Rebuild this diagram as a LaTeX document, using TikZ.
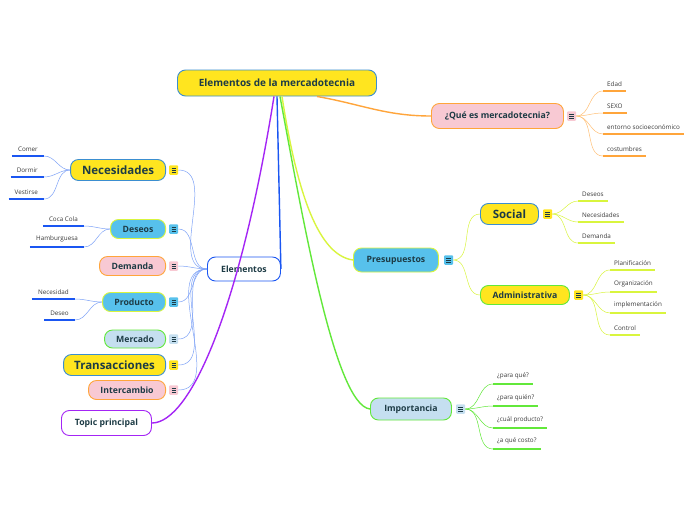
\documentclass[tikz,border=0pt]{standalone}
\usepackage{fontspec}
\setmainfont{Open Sans}
\usetikzlibrary{positioning}

\definecolor{txt}{HTML}{1D3B45}
\definecolor{leaftxt}{HTML}{3A3A3A}
\definecolor{yel}{HTML}{FFE51F}
\definecolor{bordblue}{HTML}{3B8ED0}
\definecolor{pink}{HTML}{F8C9D3}
\definecolor{orng}{HTML}{FFA53B}
\definecolor{sky}{HTML}{57C1EC}
\definecolor{lime}{HTML}{D9F53E}
\definecolor{pale}{HTML}{C5DFF0}
\definecolor{grn}{HTML}{62E83A}
\definecolor{purp}{HTML}{A425F5}
\definecolor{blu}{HTML}{1A56F2}
\definecolor{lblu}{HTML}{7FA3F7}

\tikzset{
  topic/.style={rounded corners=8pt, draw, line width=0.9pt, text=txt,
    font=\bfseries\fontsize{8.7}{10}\selectfont, inner xsep=2pt, minimum height=19pt},
  bigtopic/.style={topic, font=\bfseries\fontsize{11.5}{13}\selectfont, minimum height=21pt},
  icon/.style={rounded corners=1pt, minimum width=9pt, minimum height=9.5pt, inner sep=0pt,
    path picture={
      \draw[line width=0.5pt,txt] ([xshift=-2.2pt,yshift=2pt]path picture bounding box.center) -- ++(4.4pt,0);
      \draw[line width=0.5pt,txt] ([xshift=-2.2pt]path picture bounding box.center) -- ++(4.4pt,0);
      \draw[line width=0.5pt,txt] ([xshift=-2.2pt,yshift=-2pt]path picture bounding box.center) -- ++(4.4pt,0);}},
  leaf/.style={font=\fontsize{6.3}{7}\selectfont, text=leaftxt, inner xsep=4pt, inner ysep=4.3pt},
  twig/.style={line width=0.5pt},
  branch/.style={line width=1.4pt},
  uline/.style={line width=1.5pt}
}

\begin{document}
\begin{tikzpicture}[x=1pt,y=-1pt]
  \useasboundingbox[fill=white] (0,0) rectangle (696,520);

  % main topics
  \node[topic, fill=yel, draw=bordblue, font=\bfseries\fontsize{10}{12}\selectfont,
        minimum width=199pt, minimum height=26pt] (root) at (277,83) {Elementos de la mercadotecnia};
  \node[topic, fill=pink, draw=orng, minimum width=132pt, minimum height=25pt, anchor=west] (que) at (431,116) {¿Qué es mercadotecnia?};
  \node[topic, fill=sky, draw=lime, minimum width=85pt, minimum height=24pt, anchor=west] (presup) at (353,260) {Presupuestos};
  \node[bigtopic, fill=yel, draw=bordblue, minimum width=58pt, anchor=west] (social) at (480,214) {Social};
  \node[topic, fill=yel, draw=grn, minimum width=89pt, anchor=west] (admin) at (480,295) {Administrativa};
  \node[topic, fill=pale, draw=grn, minimum width=81pt, minimum height=22pt, anchor=west] (imp) at (370,409) {Importancia};
  \node[topic, fill=white, draw=blu, minimum width=73pt, minimum height=24pt, anchor=west] (elem) at (207,269) {Elementos};
  \node[topic, fill=white, draw=purp, minimum width=90pt, minimum height=25pt, anchor=west] (tp) at (61,423) {Topic principal};

  % left topics
  \node[bigtopic, fill=yel, draw=bordblue, minimum width=95pt, anchor=east] (nec) at (166,170) {Necesidades};
  \node[topic, fill=sky, draw=lime, minimum width=55pt, anchor=east] (des) at (166,229) {Deseos};
  \node[topic, fill=pink, draw=orng, minimum width=66pt, anchor=east] (dem) at (166,266) {Demanda};
  \node[topic, fill=sky, draw=lime, minimum width=63pt, anchor=east] (prod) at (166,302) {Producto};
  \node[topic, fill=pale, draw=grn, minimum width=61pt, minimum height=18pt, anchor=east] (merc) at (166,339) {Mercado};
  \node[bigtopic, fill=yel, draw=bordblue, minimum width=102pt, anchor=east] (trans) at (166,365) {Transacciones};
  \node[topic, fill=pink, draw=orng, minimum width=77pt, anchor=east] (inter) at (166,390) {Intercambio};

  % note icons
  \node[icon, fill=pink, right=3pt of que] (que-i) {};
  \node[icon, fill=sky, right=5pt of presup] (presup-i) {};
  \node[icon, fill=yel, right=4pt of social] (social-i) {};
  \node[icon, fill=yel, right=4pt of admin] (admin-i) {};
  \node[icon, fill=pale, right=4pt of imp] (imp-i) {};
  \node[icon, fill=yel, right=3pt of nec] (nec-i) {};
  \node[icon, fill=sky, right=3pt of des] (des-i) {};
  \node[icon, fill=pink, right=3pt of dem] (dem-i) {};
  \node[icon, fill=sky, right=3pt of prod] (prod-i) {};
  \node[icon, fill=pale, right=3pt of merc] (merc-i) {};
  \node[icon, fill=yel, right=3pt of trans] (trans-i) {};
  \node[icon, fill=pink, right=3pt of inter] (inter-i) {};

  % leaves
  \node[leaf, anchor=south west] (edad) at (603,91) {Edad};
  \node[leaf, anchor=south west] (sexo) at (603,113) {SEXO};
  \node[leaf, anchor=south west] (ent) at (603,134) {entorno socioeconómico};
  \node[leaf, anchor=south west] (cost) at (603,156) {costumbres};
  \node[leaf, anchor=south west] (s-des) at (578,201) {Deseos};
  \node[leaf, anchor=south west] (s-nec) at (578,222) {Necesidades};
  \node[leaf, anchor=south west] (s-dem) at (578,243) {Demanda};
  \node[leaf, anchor=south west] (plan) at (610,270) {Planificación};
  \node[leaf, anchor=south west] (org) at (610,292) {Organización};
  \node[leaf, anchor=south west] (impl) at (610,313) {implementación};
  \node[leaf, anchor=south west] (ctrl) at (610,335) {Control};
  \node[leaf, anchor=south west] (pq) at (493,384) {¿para qué?};
  \node[leaf, anchor=south west] (pqn) at (493,406) {¿para quién?};
  \node[leaf, anchor=south west] (cp) at (493,428) {¿cuál producto?};
  \node[leaf, anchor=south west] (aqc) at (493,449) {¿a qué costo?};
  \node[leaf, anchor=south east, inner xsep=6pt] (comer) at (44,156) {Comer};
  \node[leaf, anchor=south east, inner xsep=6pt] (dormir) at (44,177) {Dormir};
  \node[leaf, anchor=south east, inner xsep=6pt] (vest) at (44,199) {Vestirse};
  \node[leaf, anchor=south east, inner xsep=6pt] (coca) at (84,226) {Coca Cola};
  \node[leaf, anchor=south east, inner xsep=6pt] (hamb) at (84,247) {Hamburguesa};
  \node[leaf, anchor=south east, inner xsep=6pt] (pnec) at (75,299) {Necesidad};
  \node[leaf, anchor=south east, inner xsep=6pt] (pdes) at (75,320) {Deseo};

  % underlines
  \draw[uline, orng] (edad.south west) -- (edad.south east);
  \draw[uline, orng] (sexo.south west) -- (sexo.south east);
  \draw[uline, orng] (ent.south west) -- (ent.south east);
  \draw[uline, orng] (cost.south west) -- (cost.south east);
  \draw[uline, lime] (s-des.south west) -- (s-des.south east);
  \draw[uline, lime] (s-nec.south west) -- (s-nec.south east);
  \draw[uline, lime] (s-dem.south west) -- (s-dem.south east);
  \draw[uline, lime] (plan.south west) -- (plan.south east);
  \draw[uline, lime] (org.south west) -- (org.south east);
  \draw[uline, lime] (impl.south west) -- (impl.south east);
  \draw[uline, lime] (ctrl.south west) -- (ctrl.south east);
  \draw[uline, grn] (pq.south west) -- (pq.south east);
  \draw[uline, grn] (pqn.south west) -- (pqn.south east);
  \draw[uline, grn] (cp.south west) -- (cp.south east);
  \draw[uline, grn] (aqc.south west) -- (aqc.south east);
  \draw[uline, blu] (comer.south west) -- (comer.south east);
  \draw[uline, blu] (dormir.south west) -- (dormir.south east);
  \draw[uline, blu] (vest.south west) -- (vest.south east);
  \draw[uline, blu] (coca.south west) -- (coca.south east);
  \draw[uline, blu] (hamb.south west) -- (hamb.south east);
  \draw[uline, blu] (pnec.south west) -- (pnec.south east);
  \draw[uline, blu] (pdes.south west) -- (pdes.south east);

  % branches from the root
  \draw[branch, orng] ([xshift=40pt]root.south) to[out=-10,in=180] (que.west);
  \draw[branch, lime] ([xshift=5pt]root.south) .. controls (295,180) and (315,255) .. (presup.west);
  \draw[branch, grn] ([xshift=3pt]root.south) .. controls (303,220) and (335,405) .. (imp.west);
  \draw[branch, blu] (root.south) -- (elem.east);
  \draw[branch, purp] ([xshift=-3pt]root.south) .. controls (240,310) and (190,423) .. (tp.east);

  % twigs
  \draw[twig, orng!70] (que-i.east) to[out=0,in=180] (edad.south west);
  \draw[twig, orng!70] (que-i.east) to[out=0,in=180] (sexo.south west);
  \draw[twig, orng!70] (que-i.east) to[out=0,in=180] (ent.south west);
  \draw[twig, orng!70] (que-i.east) to[out=0,in=180] (cost.south west);
  \draw[twig, lime] (presup-i.east) to[out=0,in=180] (social.west);
  \draw[twig, lime] (presup-i.east) to[out=0,in=180] (admin.west);
  \draw[twig, lime] (social-i.east) to[out=0,in=180] (s-des.south west);
  \draw[twig, lime] (social-i.east) to[out=0,in=180] (s-nec.south west);
  \draw[twig, lime] (social-i.east) to[out=0,in=180] (s-dem.south west);
  \draw[twig, lime] (admin-i.east) to[out=0,in=180] (plan.south west);
  \draw[twig, lime] (admin-i.east) to[out=0,in=180] (org.south west);
  \draw[twig, lime] (admin-i.east) to[out=0,in=180] (impl.south west);
  \draw[twig, lime] (admin-i.east) to[out=0,in=180] (ctrl.south west);
  \draw[twig, grn] (imp-i.east) to[out=0,in=180] (pq.south west);
  \draw[twig, grn] (imp-i.east) to[out=0,in=180] (pqn.south west);
  \draw[twig, grn] (imp-i.east) to[out=0,in=180] (cp.south west);
  \draw[twig, grn] (imp-i.east) to[out=0,in=180] (aqc.south west);
  \draw[twig, lblu] (elem.west) to[out=180,in=0] (nec-i.east);
  \draw[twig, lblu] (elem.west) to[out=180,in=0] (des-i.east);
  \draw[twig, lblu] (elem.west) to[out=180,in=0] (dem-i.east);
  \draw[twig, lblu] (elem.west) to[out=180,in=0] (prod-i.east);
  \draw[twig, lblu] (elem.west) to[out=180,in=0] (merc-i.east);
  \draw[twig, lblu] (elem.west) to[out=180,in=0] (trans-i.east);
  \draw[twig, lblu] (elem.west) to[out=180,in=0] (inter-i.east);
  \draw[twig, lblu] (nec.west) to[out=180,in=0] (comer.south east);
  \draw[twig, lblu] (nec.west) to[out=180,in=0] (dormir.south east);
  \draw[twig, lblu] (nec.west) to[out=180,in=0] (vest.south east);
  \draw[twig, lblu] (des.west) to[out=180,in=0] (coca.south east);
  \draw[twig, lblu] (des.west) to[out=180,in=0] (hamb.south east);
  \draw[twig, lblu] (prod.west) to[out=180,in=0] (pnec.south east);
  \draw[twig, lblu] (prod.west) to[out=180,in=0] (pdes.south east);
\end{tikzpicture}
\end{document}
